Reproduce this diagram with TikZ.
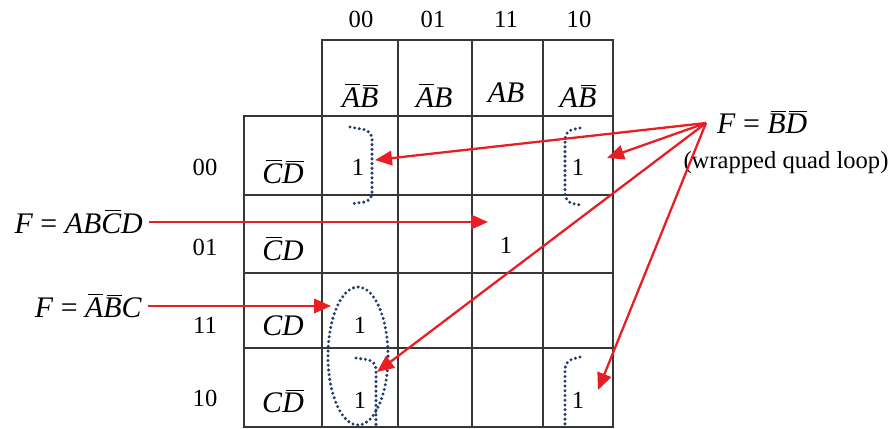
\documentclass[tikz,border=0pt]{standalone}
\usepackage{fontspec}
\setmainfont{Liberation Serif}
\usepackage{tikz}
\usetikzlibrary{arrows.meta}
\definecolor{arrR}{RGB}{232,30,36}
\definecolor{loopB}{RGB}{35,60,110}
\definecolor{gridK}{RGB}{55,55,55}
\newcommand{\nt}[1]{$\mkern2mu\overline{\mkern-2mu\mbox{\itshape #1}}$}

\begin{document}
\begin{tikzpicture}[x=0.2mm, y=-0.2mm, >={Triangle[length=3.4mm,width=2.9mm]}]
  \useasboundingbox (0,0) rectangle (894,429);
  \tikzstyle{num}=[font=\fontsize{14}{16}\selectfont, anchor=base]
  \tikzstyle{term}=[font=\fontsize{17}{19}\selectfont, anchor=base]
  \tikzstyle{arrow}=[->, arrR, line width=1.3pt]
  \tikzstyle{grp}=[loopB, line width=1.9pt, line cap=round, dash pattern=on 0pt off 2.7pt]
  \tikzstyle{gline}=[gridK, line width=1pt]

  % grid
  \draw[gline] (322,40) rectangle (613,427);
  \draw[gline] (244,116) rectangle (322,427);
  \foreach \x in {398,472,543} \draw[gline] (\x,40) -- (\x,427);
  \foreach \y in {116,195,273,348} \draw[gline] (244,\y) -- (613,\y);

  % gray code labels
  \foreach \x/\t in {361/00,433/01,506/11,579/10}
    \node[num] (col\t) at (\x,27) {\t};
  \foreach \y/\t in {175/00,255/01,333/11,406/10}
    \node[num] (row\t) at (205,\y) {\t};

  % column terms
  \node[term] (hAB) at (360,107) {\nt{A}\nt{B}};
  \node[term] (hAb) at (434,107) {\nt{A}\textit{B}};
  \node[term] (hab) at (506,102) {\textit{AB}};
  \node[term] (haB) at (578,107) {\textit{A}\nt{B}};

  % row terms
  \node[term] (vCD) at (283,183) {\nt{C}\nt{D}};
  \node[term] (vCd) at (283,260) {\nt{C}\textit{D}};
  \node[term] (vcd) at (283,335) {\textit{CD}};
  \node[term] (vcD) at (283,412) {\textit{C}\nt{D}};

  % minterms
  \node[num] (m0) at (358,175) {1};
  \node[num] (m8) at (578,175) {1};
  \node[num] (m13) at (506,253) {1};
  \node[num] (m3) at (360,333) {1};
  \node[num] (m2) at (360,408) {1};
  \node[num] (m10) at (578,408) {1};

  % groups
  \draw[grp, rounded corners=1.6mm] (350,127) -- (372,131) -- (372,201) -- (350,204);
  \draw[grp, rounded corners=1.6mm] (580,128) -- (565,131) -- (565,202) -- (580,205);
  \draw[grp, rounded corners=1.6mm] (356,358) -- (376,361) -- (376,427);
  \draw[grp, rounded corners=1.6mm] (580,357) -- (565,361) -- (565,427);
  \draw[grp] (358,356) ellipse [x radius=0.6cm, y radius=1.38cm];

  % expressions
  \node[term, anchor=base east] (fAB) at (149,233) {\textit{F} = \textit{AB}\nt{C}\textit{D}};
  \node[term, anchor=base east] (fC) at (148,317) {\textit{F} = \nt{A}\nt{B}\textit{C}};
  \node[term, anchor=base west] (fBD) at (711,133) {\textit{F} = \nt{B}\nt{D}};
  \node[num] (note) at (786,168) {(wrapped quad loop)};

  % arrows
  \coordinate (qsrc) at (706,123);
  \coordinate (tAB) at (488,222);
  \coordinate (tC) at (331,306);
  \coordinate (t0) at (375,160);
  \coordinate (t8) at (607,158);
  \coordinate (t2) at (377,372);
  \coordinate (t10) at (598,390);
  \draw[arrow] (fAB.east |- tAB) -- (tAB);
  \draw[arrow] (fC.east |- tC) -- (tC);
  \foreach \t in {t0,t8,t2,t10}
    \draw[arrow] (qsrc) -- (\t);
\end{tikzpicture}
\end{document}
